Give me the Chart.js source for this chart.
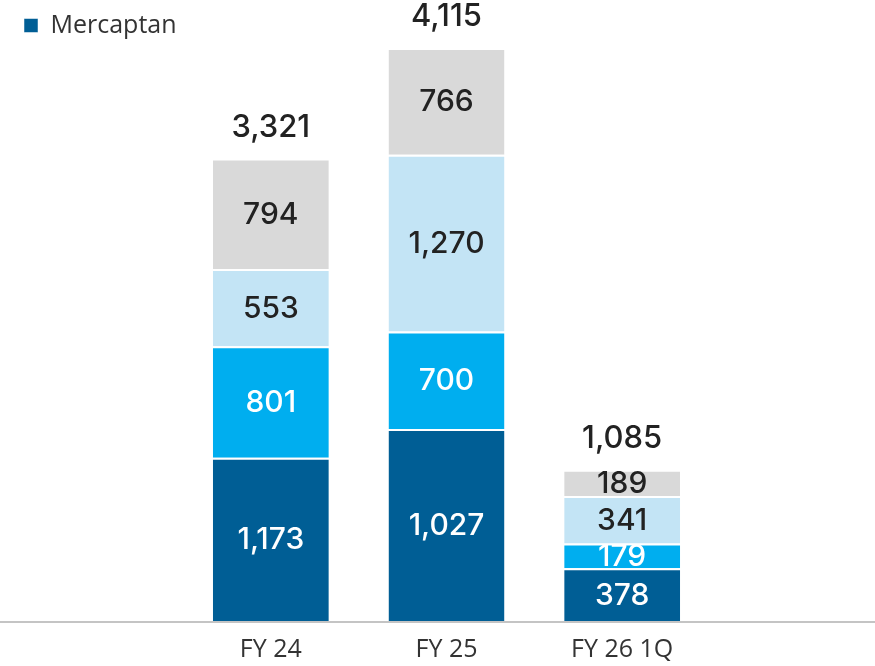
<!DOCTYPE html>
<html>
<head>
<meta charset="utf-8">
<script src="https://cdn.jsdelivr.net/npm/chart.js@4"></script>
<style>
  html, body { margin: 0; padding: 0; background: #fff; }
  #wrap { width: 875px; height: 666px; }
</style>
</head>
<body>
<div id="wrap"><canvas id="c"></canvas></div>
<script>
const categories = ['FY 24', 'FY 25', 'FY 26 1Q'];
// высоты сегментов, как они нарисованы на исходной картинке
const mercaptan = [1173, 1379, 378];
const series2 = [801, 700, 179];
const series3 = [553, 1270, 341];
const series4 = [794, 766, 189];
// подписи, как они напечатаны (у FY 25 подпись не совпадает с высотой)
const mercaptanText = [1173, 1027, 378];
const totals = [3321, 4115, 1085];

const numFont = '"Inter", "Open Sans", sans-serif';
const textFont = '"Open Sans", sans-serif';

const labelPlugin = {
    id: 'labels',
    afterDatasetsDraw(chart) {
        const ctx = chart.ctx;
        ctx.save();
        ctx.textAlign = 'center';
        ctx.textBaseline = 'middle';
        ctx.font = '500 30px ' + numFont;
        chart.data.datasets.forEach((ds, i) => {
            const meta = chart.getDatasetMeta(i);
            const shown = ds.shown || ds.data;
            meta.data.forEach((bar, j) => {
                const mid = (bar.y + bar.base) / 2;
                ctx.fillStyle = ds.textColor;
                ctx.fillText(shown[j].toLocaleString('en-US'), bar.x, mid + 1);
            });
        });
        const last = chart.getDatasetMeta(chart.data.datasets.length - 1);
        ctx.fillStyle = '#222';
        ctx.font = '500 31px ' + numFont;
        last.data.forEach((bar, j) => {
            ctx.fillText(totals[j].toLocaleString('en-US'), bar.x, bar.y - 31);
        });
        // базовая линия на всю ширину
        const y0 = chart.scales.y.getPixelForValue(0);
        ctx.strokeStyle = '#c4c4c4';
        ctx.lineWidth = 2;
        ctx.beginPath();
        ctx.moveTo(0, y0 + 1);
        ctx.lineTo(chart.width, y0 + 1);
        ctx.stroke();
        ctx.restore();
    }
};

const ctx = document.getElementById('c').getContext('2d');
new Chart(ctx, {
    type: 'bar',
    data: {
        labels: categories,
        datasets: [
            { label: 'Mercaptan', data: mercaptan, shown: mercaptanText, backgroundColor: '#005e95', textColor: '#fff' },
            { label: 'Series 2', data: series2, backgroundColor: '#00aeef', textColor: '#fff' },
            { label: 'Series 3', data: series3, backgroundColor: '#c3e4f5', textColor: '#222' },
            { label: 'Series 4', data: series4, backgroundColor: '#d9d9d9', textColor: '#222' }
        ].map(d => Object.assign(d, {
            borderColor: '#fff',
            borderWidth: { top: 2, bottom: 0, left: 0, right: 0 },
            borderSkipped: false,
            categoryPercentage: 1,
            barPercentage: 0.66
        }))
    },
    options: {
        responsive: true,
        maintainAspectRatio: false,
        animation: false,
        layout: { padding: { left: 16, right: 165, top: 5, bottom: 0 } },
        plugins: {
            legend: {
                position: 'top',
                align: 'start',
                labels: {
                    filter: item => item.datasetIndex === 0,
                    boxWidth: 14,
                    boxHeight: 14,
                    color: '#333',
                    font: { family: textFont, size: 25 },
                    padding: 8
                }
            },
            tooltip: { enabled: false }
        },
        scales: {
            x: {
                stacked: true,
                grid: { display: false, drawTicks: false },
                border: { display: false },
                ticks: {
                    color: '#333',
                    font: { family: textFont, size: 25 },
                    padding: 14
                },
                afterFit: s => { s.height = 45; }
            },
            y: {
                stacked: true,
                min: 0,
                max: 4115,
                grid: { display: false, drawTicks: false },
                border: { display: false },
                ticks: { display: false },
                afterFit: s => { s.width = 167; }
            }
        }
    },
    plugins: [labelPlugin]
});
</script>
</body>
</html>
